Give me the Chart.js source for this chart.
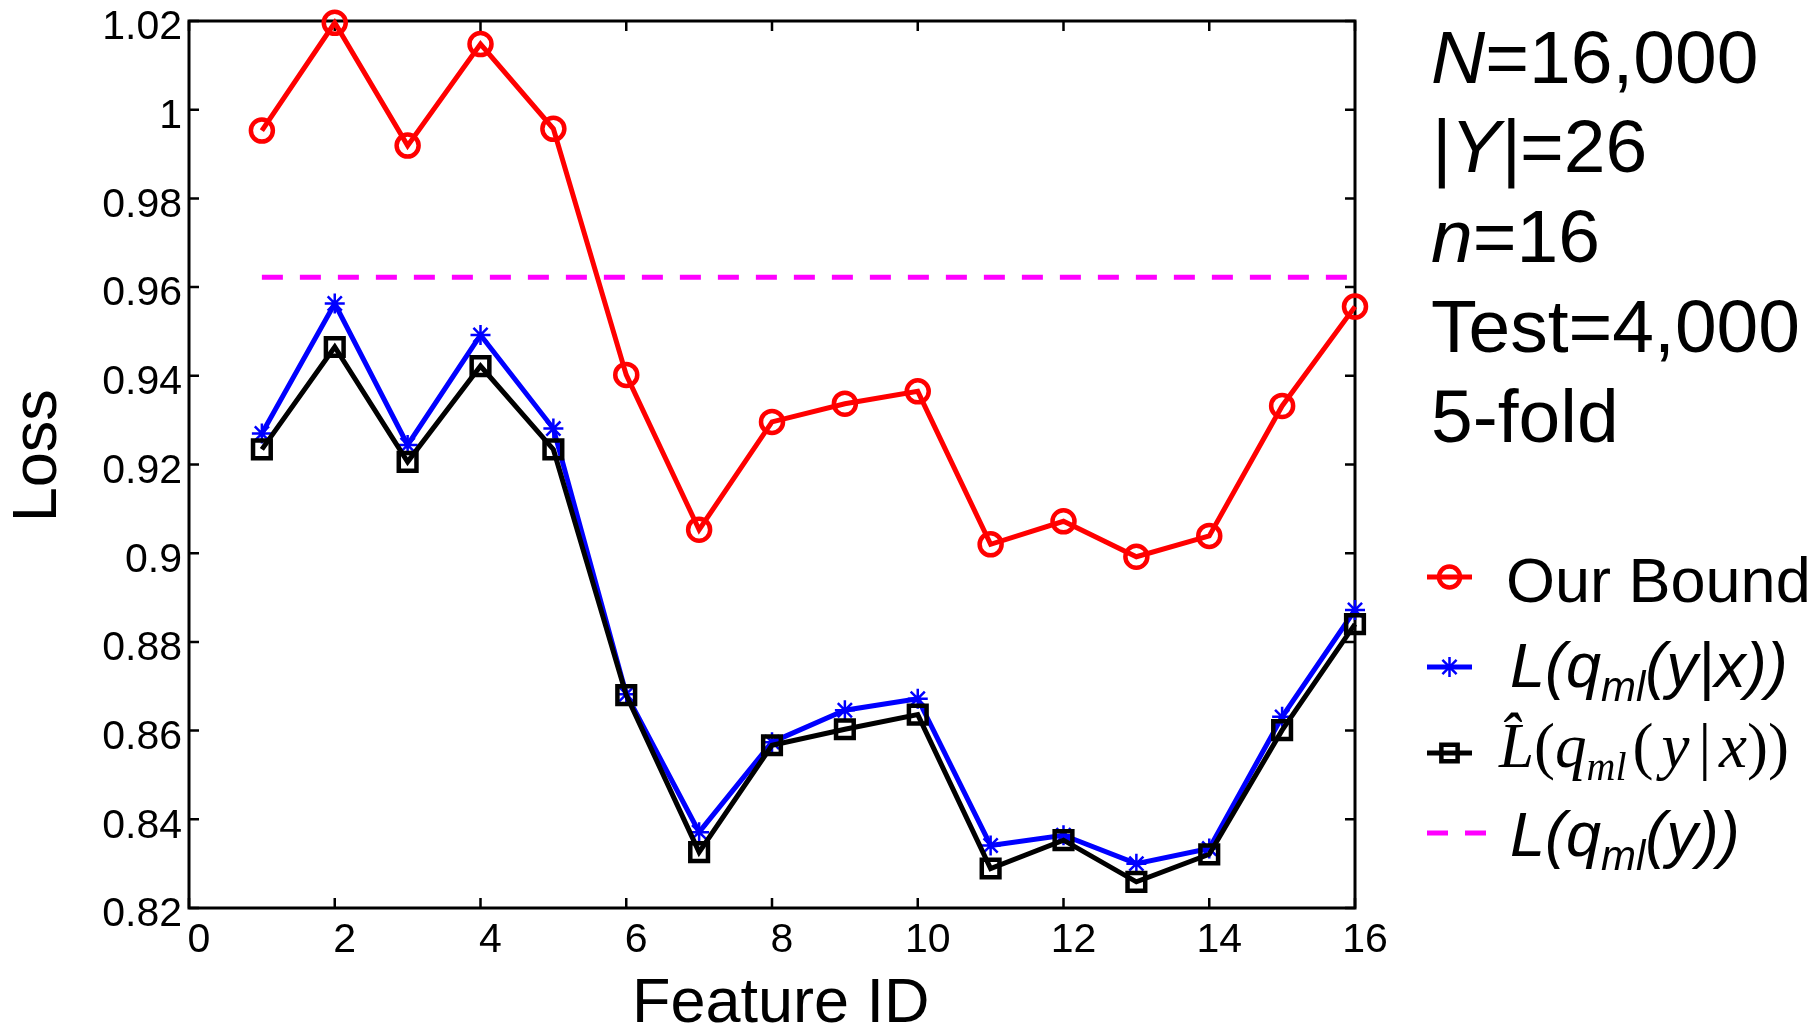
<!DOCTYPE html>
<html>
<head>
<meta charset="utf-8">
<title>Loss vs Feature ID</title>
<script src="https://cdn.jsdelivr.net/npm/chart.js@4.4.0/dist/chart.umd.min.js"></script>
<style>
  html, body { margin: 0; padding: 0; background: #fff; }
  #wrap { position: relative; width: 1820px; height: 1034px; }
</style>
</head>
<body>
<div id="wrap"><canvas id="lossChart" width="1820" height="1034"></canvas></div>
<script>
// values
const featureIds = [1, 2, 3, 4, 5, 6, 7, 8, 9, 10, 11, 12, 13, 14, 15, 16];
const ourBound = [0.9953, 1.0196, 0.9919, 1.0148, 0.9957, 0.9402, 0.9053, 0.9296,
                  0.9337, 0.9365, 0.9020, 0.9072, 0.8992, 0.9039, 0.9332, 0.9556];
const lossMlCond = [0.9270, 0.9563, 0.9244, 0.9492, 0.9281, 0.8682, 0.8371, 0.8574,
                    0.8646, 0.8672, 0.8341, 0.8364, 0.8300, 0.8334, 0.8631, 0.8872];
const lossMlCondEmp = [0.9234, 0.9465, 0.9206, 0.9422, 0.9234, 0.8680, 0.8326, 0.8567,
                       0.8603, 0.8636, 0.8289, 0.8353, 0.8259, 0.8321, 0.8601, 0.8840];
const lossMlPrior = [0.9622, 0.9622, 0.9622, 0.9622, 0.9622, 0.9622, 0.9622, 0.9622,
                     0.9622, 0.9622, 0.9622, 0.9622, 0.9622, 0.9622, 0.9622, 0.9622];

const xTicks = [0, 2, 4, 6, 8, 10, 12, 14, 16];
const xTickLabels = ["0", "2", "4", "6", "8", "10", "12", "14", "16"];
const yTicks = [0.82, 0.84, 0.86, 0.88, 0.9, 0.92, 0.94, 0.96, 0.98, 1, 1.02];
const yTickLabels = ["0.82", "0.84", "0.86", "0.88", "0.9", "0.92", "0.94", "0.96", "0.98", "1", "1.02"];

const SANS = "'Liberation Sans', Arial, sans-serif";
const SERIF = "'Liberation Serif', 'Times New Roman', serif";

const ctx = document.getElementById("lossChart").getContext("2d");

function pts(arr) {
    return featureIds.map((x, i) => ({ x: x, y: arr[i] }));
}

/* box + inward ticks, like matlab */
const framePlugin = {
    id: "frame",
    beforeDatasetsDraw(chart) {
        const c = chart.ctx;
        const a = chart.chartArea;
        const xs = chart.scales.x, ys = chart.scales.y;
        const tl = 10;
        c.save();
        c.strokeStyle = "#000";
        c.lineWidth = 3;
        c.strokeRect(a.left, a.top, a.right - a.left, a.bottom - a.top);
        c.lineWidth = 2.5;
        c.beginPath();
        xs.ticks.forEach(t => {
            const px = xs.getPixelForValue(t.value);
            c.moveTo(px, a.bottom); c.lineTo(px, a.bottom - tl);
            c.moveTo(px, a.top); c.lineTo(px, a.top + tl);
        });
        ys.ticks.forEach(t => {
            const py = ys.getPixelForValue(t.value);
            c.moveTo(a.left, py); c.lineTo(a.left + tl, py);
            c.moveTo(a.right, py); c.lineTo(a.right - tl, py);
        });
        c.stroke();
        c.restore();
    }
};

function drawRuns(c, x, y, runs) {
    runs.forEach(r => {
        c.font = r.font;
        c.fillText(r.text, x, y + (r.dy || 0));
        x += c.measureText(r.text).width + (r.dx || 0);
    });
}

const legendItems = [
    { color: "#ff0000", style: "circle", radius: 10.5, bw: 4.5, dash: null, y: 577,
      base: 602, x: 1506,
      runs: [{ text: "Our Bound", font: "63px " + SANS }] },
    { color: "#0000ff", style: "star", radius: 10, bw: 2.5, dash: null, y: 667,
      base: 687, x: 1510,
      runs: [{ text: "L(q", font: "italic 63px " + SANS },
             { text: "ml", font: "italic 42px " + SANS, dy: 14 },
             { text: "(y|x))", font: "italic 63px " + SANS }] },
    { color: "#000000", style: "rect", radius: 11.5, bw: 4.5, dash: null, y: 753,
      base: 767, x: 1499,
      runs: [{ text: "L\u0302", font: "italic 63px " + SERIF },
             { text: "(", font: "63px " + SERIF },
             { text: "q", font: "italic 63px " + SERIF },
             { text: "ml", font: "italic 40px " + SERIF, dy: 13, dx: 6 },
             { text: "(", font: "63px " + SERIF, dx: 8 },
             { text: "y", font: "italic 63px " + SERIF, dx: 9 },
             { text: "|", font: "63px " + SERIF, dx: 8 },
             { text: "x", font: "italic 63px " + SERIF },
             { text: "))", font: "63px " + SERIF }] },
    { color: "#ff00ff", style: null, radius: 0, bw: 0, dash: [21, 17], y: 833,
      base: 856, x: 1510,
      runs: [{ text: "L(q", font: "italic 63px " + SANS },
             { text: "ml", font: "italic 42px " + SANS, dy: 14 },
             { text: "(y))", font: "italic 63px " + SANS }] }
];

const infoLines = [
    { base: 83, runs: [{ text: "N", font: "italic 75px " + SANS }, { text: "=16,000", font: "75px " + SANS }] },
    { base: 172, runs: [{ text: "|Y|", font: "italic 75px " + SANS }, { text: "=26", font: "75px " + SANS }] },
    { base: 262, runs: [{ text: "n", font: "italic 75px " + SANS }, { text: "=16", font: "75px " + SANS }] },
    { base: 352, runs: [{ text: "Test=4,000", font: "75px " + SANS }] },
    { base: 442, runs: [{ text: "5-fold", font: "75px " + SANS }] }
];

const sidePlugin = {
    id: "side",
    afterDraw(chart) {
        const c = chart.ctx;
        c.save();
        c.fillStyle = "#000";
        c.textBaseline = "alphabetic";
        c.textAlign = "left";
        infoLines.forEach(l => drawRuns(c, 1431, l.base, l.runs));

        legendItems.forEach(it => {
            c.save();
            c.strokeStyle = it.color;
            c.lineWidth = 5;
            if (it.dash) {
                c.setLineDash(it.dash);
                c.beginPath(); c.moveTo(1427, it.y); c.lineTo(1486, it.y); c.stroke();
            } else {
                c.beginPath(); c.moveTo(1427, it.y); c.lineTo(1472, it.y); c.stroke();
                c.fillStyle = "rgba(0,0,0,0)";
                c.lineWidth = it.bw;
                Chart.helpers.drawPoint(c, { pointStyle: it.style, radius: it.radius, borderWidth: it.bw, rotation: 0 }, 1449.5, it.y);
            }
            c.restore();
            c.fillStyle = "#000";
            drawRuns(c, it.x, it.base, it.runs);
        });
        c.restore();
    }
};

new Chart(ctx, {
    type: "line",
    data: {
        datasets: [
            {
                label: "Our Bound",
                data: pts(ourBound),
                borderColor: "#ff0000",
                borderWidth: 5,
                pointStyle: "circle",
                pointRadius: 11,
                pointBorderWidth: 4.5,
                pointBorderColor: "#ff0000",
                pointBackgroundColor: "rgba(0,0,0,0)",
                tension: 0,
                clip: false,
                order: 4
            },
            {
                label: "L(q_ml(y|x))",
                data: pts(lossMlCond),
                borderColor: "#0000ff",
                borderWidth: 5,
                pointStyle: "star",
                pointRadius: 10,
                pointBorderWidth: 2.5,
                pointBorderColor: "#0000ff",
                pointBackgroundColor: "rgba(0,0,0,0)",
                tension: 0,
                clip: false,
                order: 3
            },
            {
                label: "L^(q_ml(y|x))",
                data: pts(lossMlCondEmp),
                borderColor: "#000000",
                borderWidth: 5,
                pointStyle: "rect",
                pointRadius: 12.5,
                pointBorderWidth: 4.5,
                pointBorderColor: "#000000",
                pointBackgroundColor: "rgba(0,0,0,0)",
                tension: 0,
                clip: false,
                order: 2
            },
            {
                label: "L(q_ml(y))",
                data: pts(lossMlPrior),
                borderColor: "#ff00ff",
                borderWidth: 5,
                borderDash: [21, 17],
                pointRadius: 0,
                tension: 0,
                clip: false,
                order: 1
            }
        ]
    },
    options: {
        responsive: false,
        animation: false,
        events: [],
        layout: {
            autoPadding: false,
            padding: { left: 0, top: 21, right: 465, bottom: 0 }
        },
        plugins: {
            legend: { display: false },
            tooltip: { enabled: false }
        },
        scales: {
            x: {
                type: "linear",
                min: 0,
                max: 16,
                afterBuildTicks: s => { s.ticks = xTicks.map(v => ({ value: v })); },
                afterFit: s => { s.height = 126; s.paddingLeft = 0; s.paddingRight = 0; },
                grid: { display: false, drawTicks: false },
                border: { display: false },
                ticks: {
                    color: "#000",
                    font: { family: SANS, size: 41 },
                    padding: 8,
                    labelOffset: 10,
                    maxRotation: 0,
                    autoSkip: false,
                    callback: (v, i) => xTickLabels[i]
                },
                title: {
                    display: true,
                    text: " Feature ID",
                    color: "#000",
                    font: { family: SANS, size: 63, lineHeight: 0.9 },
                    padding: { top: 0, bottom: 1 }
                }
            },
            y: {
                type: "linear",
                min: 0.82,
                max: 1.02,
                afterBuildTicks: s => { s.ticks = yTicks.map(v => ({ value: v })); },
                afterFit: s => { s.width = 189; s.paddingTop = 0; s.paddingBottom = 0; },
                grid: { display: false, drawTicks: false },
                border: { display: false },
                ticks: {
                    color: "#000",
                    font: { family: SANS, size: 41 },
                    padding: 7,
                    labelOffset: 7,
                    autoSkip: false,
                    callback: (v, i) => yTickLabels[i]
                },
                title: {
                    display: true,
                    text: " Loss",
                    color: "#000",
                    font: { family: SANS, size: 63, lineHeight: 0.9 },
                    padding: { top: 10, bottom: 0 }
                }
            }
        }
    },
    plugins: [framePlugin, sidePlugin]
});
</script>
</body>
</html>
